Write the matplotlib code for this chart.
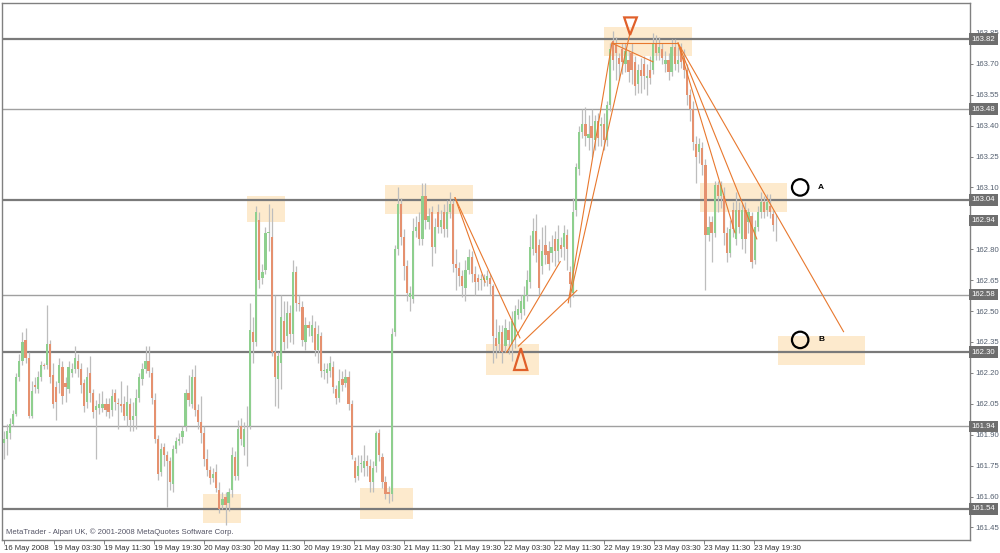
import matplotlib
matplotlib.use("Agg")
import matplotlib.pyplot as plt
import matplotlib.transforms as mtransforms
from matplotlib.patches import Rectangle, Polygon

plt.rcParams["font.family"] = ["Liberation Sans", "DejaVu Sans"]

# GBPJPY-style M30 bars (open, high, low, close)
opens = [
    161.86, 161.88, 161.91, 161.95, 162.00, 162.18, 162.26, 162.36, 162.27, 161.99,
    162.14, 162.12, 162.18, 162.24, 162.24, 162.34, 162.19, 162.13, 162.15, 162.23,
    162.15, 162.12, 162.20, 162.22, 162.26, 162.22, 162.15, 162.06, 162.20, 162.10,
    162.02, 162.03, 162.03, 162.05, 162.05, 162.02, 162.10, 162.055, 162.05, 162.05,
    161.99, 162.05, 161.97, 161.99, 162.08, 162.17, 162.22, 162.26, 162.20, 162.07,
    161.88, 161.72, 161.84, 161.80, 161.77, 161.66, 161.83, 161.87, 161.89, 161.94,
    162.10, 162.05, 162.18, 162.02, 161.96, 161.91, 161.78, 161.73, 161.69, 161.72,
    161.63, 161.56, 161.60, 161.57, 161.63, 161.79, 161.70, 161.94, 161.84, 161.94,
    161.94, 162.40, 162.35, 162.94, 162.66, 162.70, 162.88, 162.86, 162.30, 162.17,
    162.25, 162.45, 162.38, 162.49, 162.39, 162.69, 162.54, 162.52, 162.35, 162.43,
    162.38, 162.42, 162.31, 162.38, 162.21, 162.20, 162.21, 162.23, 162.12, 162.08,
    162.17, 162.15, 162.18, 162.05, 161.77, 161.70, 161.76, 161.74, 161.77, 161.75,
    161.67, 161.75, 161.91, 161.79, 161.67, 161.62, 161.61, 162.40, 162.80, 163.02,
    162.86, 162.72, 162.57, 162.56, 162.89, 162.93, 162.85, 163.06, 162.93, 162.98,
    162.81, 162.98, 162.91, 162.98, 162.90, 162.98, 163.02, 162.73, 162.71, 162.67,
    162.61, 162.70, 162.76, 162.68, 162.66, 162.65, 162.65, 162.65, 162.66, 162.62,
    162.37, 162.34, 162.40, 162.33, 162.41, 162.34, 162.36, 162.48, 162.49, 162.51,
    162.58, 162.64, 162.80, 162.89, 162.82, 162.72, 162.82, 162.79, 162.78, 162.85,
    162.79, 162.82, 162.81, 162.87, 162.69, 162.59, 162.99, 163.19, 163.37, 163.41,
    163.34, 163.40, 163.33, 163.42, 163.40, 163.41, 163.33, 163.50, 163.81, 163.79,
    163.73, 163.77, 163.70, 163.72, 163.75, 163.71, 163.60, 163.67, 163.70, 163.63,
    163.67, 163.67, 163.80, 163.75, 163.77, 163.70, 163.72, 163.66, 163.78, 163.70,
    163.78, 163.73, 163.67, 163.55, 163.48, 163.31, 163.27, 163.29, 163.21, 162.87,
    162.93, 162.88, 163.11, 163.06, 163.06, 162.88, 162.78, 162.99, 162.85, 162.99,
    162.85, 162.99, 162.93, 162.96, 162.75, 162.91, 162.98, 163.03, 162.99, 163.01,
    162.97, 162.94,
]
highs = [
    161.92, 161.95, 161.98, 162.02, 162.20, 162.29, 162.40, 162.42, 162.30, 162.16,
    162.18, 162.21, 162.26, 162.25, 162.53, 162.36, 162.25, 162.16, 162.27, 162.26,
    162.18, 162.26, 162.25, 162.33, 162.29, 162.25, 162.17, 162.23, 162.28, 162.12,
    162.07, 162.10, 162.11, 162.08, 162.08, 162.12, 162.12, 162.08, 162.16, 162.09,
    162.14, 162.08, 162.06, 162.12, 162.20, 162.25, 162.33, 162.33, 162.23, 162.10,
    161.90, 161.86, 161.86, 161.82, 161.79, 161.85, 161.89, 161.91, 161.94, 162.12,
    162.19, 162.22, 162.24, 162.05, 162.09, 161.94, 161.83, 161.75, 161.74, 161.76,
    161.67, 161.62, 161.62, 161.64, 161.84, 161.82, 161.97, 161.98, 161.96, 162.04,
    162.54, 162.47, 163.01, 162.98, 162.73, 162.91, 163.02, 163.00, 162.58, 162.30,
    162.58, 162.55, 162.55, 162.53, 162.75, 162.72, 162.58, 162.55, 162.47, 162.45,
    162.48, 162.45, 162.43, 162.40, 162.25, 162.25, 162.28, 162.26, 162.14, 162.22,
    162.21, 162.22, 162.21, 162.07, 161.79, 161.80, 161.80, 161.85, 161.80, 161.78,
    161.77, 161.92, 161.93, 161.81, 161.70, 161.65, 162.42, 162.82, 163.10, 163.05,
    162.90, 162.75, 162.62, 162.95, 162.96, 162.98, 163.12, 163.12, 163.00, 163.01,
    162.95, 163.02, 162.99, 163.02, 163.04, 163.08, 163.04, 162.80, 162.74, 162.70,
    162.75, 162.80, 162.79, 162.72, 162.68, 162.68, 162.68, 162.70, 162.68, 162.63,
    162.46, 162.43, 162.43, 162.46, 162.45, 162.50, 162.53, 162.56, 162.58, 162.62,
    162.70, 162.87, 162.95, 162.97, 162.85, 162.91, 162.92, 162.84, 162.87, 162.89,
    162.92, 162.86, 162.92, 162.90, 162.72, 163.05, 163.22, 163.40, 163.48, 163.49,
    163.45, 163.48, 163.45, 163.46, 163.44, 163.46, 163.52, 163.80, 163.86, 163.83,
    163.75, 163.80, 163.80, 163.76, 163.80, 163.74, 163.70, 163.73, 163.74, 163.70,
    163.74, 163.85, 163.84, 163.83, 163.80, 163.76, 163.75, 163.82, 163.82, 163.78,
    163.80, 163.77, 163.70, 163.58, 163.52, 163.35, 163.34, 163.32, 163.24, 162.96,
    162.96, 163.13, 163.13, 163.13, 163.10, 162.91, 162.94, 163.03, 163.08, 163.03,
    163.02, 163.03, 163.00, 162.98, 162.94, 163.01, 163.08, 163.06, 163.07, 163.07,
    162.99, 162.97,
]
lows = [
    161.78, 161.80, 161.88, 161.94, 161.99, 162.16, 162.24, 162.25, 161.98, 161.98,
    162.10, 162.10, 162.16, 162.22, 162.22, 162.15, 162.03, 161.97, 162.10, 162.05,
    162.06, 162.10, 162.18, 162.20, 162.18, 162.10, 162.01, 162.03, 162.06, 161.98,
    161.78, 162.00, 162.01, 161.99, 161.98, 161.99, 162.02, 161.93, 162.01, 161.97,
    161.94, 161.92, 161.92, 161.93, 162.06, 162.14, 162.20, 162.18, 162.05, 161.86,
    161.68, 161.70, 161.75, 161.55, 161.63, 161.62, 161.81, 161.85, 161.86, 161.92,
    162.04, 162.03, 161.99, 161.93, 161.86, 161.75, 161.70, 161.66, 161.67, 161.62,
    161.52, 161.54, 161.46, 161.53, 161.60, 161.68, 161.68, 161.85, 161.80, 161.75,
    161.93, 162.25, 162.33, 162.61, 162.63, 162.68, 162.79, 162.28, 162.04, 162.03,
    162.12, 162.31, 162.32, 162.35, 162.34, 162.50, 162.50, 162.33, 162.31, 162.38,
    162.35, 162.28, 162.25, 162.18, 162.17, 162.15, 162.18, 162.10, 162.05, 162.06,
    162.11, 162.13, 162.02, 161.78, 161.67, 161.68, 161.72, 161.70, 161.70, 161.62,
    161.62, 161.72, 161.77, 161.64, 161.59, 161.57, 161.58, 162.38, 162.77, 162.82,
    162.65, 162.55, 162.50, 162.54, 162.86, 162.82, 162.82, 162.90, 162.90, 162.72,
    162.78, 162.88, 162.88, 162.86, 162.86, 162.95, 162.69, 162.60, 162.62, 162.57,
    162.55, 162.68, 162.64, 162.58, 162.60, 162.60, 162.62, 162.62, 162.58, 162.25,
    162.27, 162.30, 162.25, 162.30, 162.29, 162.26, 162.32, 162.46, 162.46, 162.48,
    162.55, 162.61, 162.77, 162.74, 162.58, 162.68, 162.73, 162.70, 162.74, 162.72,
    162.74, 162.76, 162.75, 162.70, 162.52, 162.57, 162.96, 163.16, 163.34, 163.30,
    163.28, 163.25, 163.28, 163.30, 163.30, 163.28, 163.30, 163.47, 163.67, 163.62,
    163.62, 163.65, 163.66, 163.61, 163.60, 163.55, 163.56, 163.56, 163.58, 163.55,
    163.60, 163.65, 163.72, 163.72, 163.70, 163.66, 163.62, 163.64, 163.67, 163.66,
    163.68, 163.63, 163.50, 163.42, 163.28, 163.12, 163.22, 163.16, 162.60, 162.84,
    162.74, 162.86, 162.98, 163.00, 162.82, 162.74, 162.76, 162.86, 162.82, 162.88,
    162.80, 162.78, 162.88, 162.71, 162.73, 162.89, 162.95, 162.95, 162.96, 162.95,
    162.89, 162.84,
]
closes = [
    161.88, 161.92, 161.95, 162.00, 162.18, 162.26, 162.35, 162.27, 161.99, 162.11,
    162.13, 162.18, 162.24, 162.235, 162.34, 162.18, 162.05, 162.06, 162.24, 162.09,
    162.13, 162.23, 162.22, 162.27, 162.22, 162.14, 162.04, 162.18, 162.10, 162.01,
    162.04, 162.05, 162.05, 162.02, 162.01, 162.09, 162.06, 162.05, 162.04, 161.99,
    162.06, 161.97, 161.99, 162.08, 162.18, 162.22, 162.26, 162.21, 162.08, 161.88,
    161.71, 161.83, 161.80, 161.77, 161.67, 161.83, 161.87, 161.88, 161.92, 162.10,
    162.07, 162.18, 162.02, 161.96, 161.91, 161.78, 161.73, 161.69, 161.71, 161.64,
    161.54, 161.59, 161.56, 161.62, 161.80, 161.70, 161.93, 161.88, 161.93, 161.94,
    162.41, 162.35, 162.98, 162.65, 162.69, 162.88, 162.885, 162.30, 162.18, 162.28,
    162.47, 162.35, 162.49, 162.39, 162.69, 162.54, 162.535, 162.36, 162.43, 162.42,
    162.43, 162.31, 162.39, 162.21, 162.21, 162.22, 162.25, 162.13, 162.08, 162.16,
    162.14, 162.18, 162.05, 161.80, 161.69, 161.75, 161.765, 161.77, 161.75, 161.67,
    161.74, 161.91, 161.80, 161.67, 161.61, 161.61, 162.39, 162.80, 163.02, 162.86,
    162.72, 162.59, 162.59, 162.89, 162.91, 162.85, 163.06, 162.94, 162.96, 162.81,
    162.91, 162.91, 162.94, 162.90, 162.98, 163.02, 162.73, 162.71, 162.67, 162.62,
    162.70, 162.76, 162.68, 162.64, 162.64, 162.65, 162.66, 162.67, 162.63, 162.38,
    162.33, 162.40, 162.30, 162.42, 162.36, 162.45, 162.50, 162.51, 162.55, 162.58,
    162.65, 162.81, 162.89, 162.78, 162.61, 162.79, 162.77, 162.73, 162.81, 162.79,
    162.85, 162.80, 162.88, 162.80, 162.63, 162.98, 163.20, 163.37, 163.41, 163.35,
    163.36, 163.34, 163.42, 163.34, 163.41, 163.33, 163.50, 163.77, 163.72, 163.75,
    163.70, 163.71, 163.76, 163.66, 163.67, 163.59, 163.67, 163.64, 163.64, 163.64,
    163.63, 163.80, 163.75, 163.78, 163.73, 163.72, 163.66, 163.78, 163.70, 163.72,
    163.71, 163.67, 163.55, 163.48, 163.32, 163.25, 163.31, 163.21, 162.87, 162.91,
    162.88, 163.11, 163.06, 163.11, 162.88, 162.78, 162.90, 162.90, 162.99, 162.91,
    162.99, 162.85, 162.98, 162.74, 162.91, 162.98, 163.03, 162.98, 163.03, 162.98,
    162.92, 162.94,
]

time_labels = [
    "16 May 2008", "19 May 03:30", "19 May 11:30", "19 May 19:30",
    "20 May 03:30", "20 May 11:30", "20 May 19:30", "21 May 03:30",
    "21 May 11:30", "21 May 19:30", "22 May 03:30", "22 May 11:30",
    "22 May 19:30", "23 May 03:30", "23 May 11:30", "23 May 19:30",
]
# 162.95 is hidden behind the 162.94 marker in the original, so it is left out
price_ticks = [161.45, 161.60, 161.75, 161.90, 162.05, 162.20, 162.35, 162.50,
               162.65, 162.80, 163.10, 163.25, 163.40, 163.55, 163.70, 163.85]

# support / resistance levels drawn on the chart
major_levels = [163.82, 163.04, 162.30, 161.54]
minor_levels = [163.48, 162.58, 161.94]
marked_prices = [163.82, 163.48, 163.04, 162.94, 162.58, 162.30, 161.94, 161.54]

# highlight rectangles: bar from, bar to, price low, price high
zones = [
    (79.0, 91.4, 162.93, 163.06),
    (64.7, 77.0, 161.47, 161.61),
    (115.7, 133.0, 161.49, 161.64),
    (123.9, 152.5, 162.97, 163.11),
    (156.7, 173.9, 162.19, 162.34),
    (195.1, 223.7, 163.74, 163.88),
    (226.3, 254.6, 162.98, 163.12),
    (251.6, 279.9, 162.24, 162.38),
]
# trend lines: bar0, price0, bar1, price1
trendlines = [
    (146.6, 163.05, 156.4, 162.64),
    (146.6, 163.05, 167.7, 162.37),
    (163.4, 162.30, 180.8, 162.74),
    (167.2, 162.33, 186.2, 162.60),
    (184.0, 162.57, 203.5, 163.85),
    (183.4, 162.54, 197.6, 163.80),
    (197.6, 163.80, 219.1, 163.80),
    (197.6, 163.80, 210.9, 163.71),
    (219.1, 163.80, 237.6, 162.88),
    (219.1, 163.80, 244.7, 162.85),
    (219.1, 163.80, 272.9, 162.40),
]
tri_down = [(201.6, 163.925), (205.7, 163.925), (203.5, 163.84)]
tri_up = [(165.8, 162.214), (170.1, 162.214), (168.0, 162.32)]
targets = [("A", 258.8, 163.10), ("B", 258.8, 162.36)]

UP = "#8ECF8E"
DOWN = "#E5916F"
WICK = "#BDBDBD"
ORANGE = "#E8782E"
FRAME = "#808080"

fig = plt.figure(figsize=(10, 5.53), dpi=100)
ax = fig.add_axes([0.002, 13 / 553, 0.968, 537 / 553])

n = len(closes)
xs = list(range(n))

for x0, x1, p0, p1 in zones:
    ax.add_patch(Rectangle((x0, p0), x1 - x0, p1 - p0, facecolor="#FDEACD",
                           edgecolor="none", zorder=0))

for lv in major_levels:
    ax.axhline(lv, color="#7A7A7A", lw=1.6, zorder=1)
for lv in minor_levels:
    ax.axhline(lv, color="#A0A0A0", lw=1.0, zorder=1)

ax.vlines(xs, lows, highs, color=WICK, lw=0.9, zorder=2)
bottoms = [min(o, c) for o, c in zip(opens, closes)]
heights = [max(abs(c - o), 0.004) for o, c in zip(opens, closes)]
colors = [UP if c >= o else DOWN for o, c in zip(opens, closes)]
ax.bar(xs, heights, bottom=bottoms, width=0.72, color=colors, linewidth=0, zorder=3)

for b0, p0, b1, p1 in trendlines:
    ax.plot([b0, b1], [p0, p1], color=ORANGE, lw=0.8, zorder=4)

for tri in (tri_down, tri_up):
    ax.add_patch(Polygon(tri, closed=True, fill=False, edgecolor="#E0602A",
                         lw=1.6, zorder=5))

for name, bx, py in targets:
    ax.scatter([bx], [py], s=140, facecolors="none", edgecolors="black",
               linewidths=1.6, zorder=6)
    ax.text(bx + 5.8, py, name, fontsize=6, fontweight="bold", va="center",
            ha="left", zorder=6)

ax.set_xlim(-0.65, 314.0)
ax.set_ylim(161.389, 163.995)

# bottom time scale (bars are 30 min, a label every 8 hours)
ax.set_xticks([k * 16.25 for k in range(len(time_labels))])
ax.set_xticklabels(time_labels, ha="left")
ax.tick_params(axis="x", direction="out", length=3, width=0.7, color=FRAME,
               labelsize=5.6, labelcolor="#333333", pad=0.5)

ax.yaxis.tick_right()
ax.set_yticks(price_ticks)
ax.set_yticklabels([f"{p:.2f}" for p in price_ticks])
ax.tick_params(axis="y", direction="out", length=2.5, width=0.7, color=FRAME,
               labelsize=5.6, labelcolor="#556070", pad=1.5)

for sp in ax.spines.values():
    sp.set_color(FRAME)
    sp.set_linewidth(1.0)

trans = mtransforms.blended_transform_factory(ax.transAxes, ax.transData)
for p in marked_prices:
    ax.text(1.0018, p, f"{p:.2f}", transform=trans, fontsize=5.6, color="white",
            va="center", ha="left", clip_on=False, zorder=10,
            bbox=dict(boxstyle="square,pad=0.3", facecolor="#6E6E6E",
                      edgecolor="none"))

ax.text(0.004, 0.014, "MetaTrader - Alpari UK, \u00a9 2001-2008 MetaQuotes Software Corp.",
        transform=ax.transAxes, fontsize=5.6, color="#555566", va="center", zorder=7)

fig.savefig("out.png", dpi=100)
